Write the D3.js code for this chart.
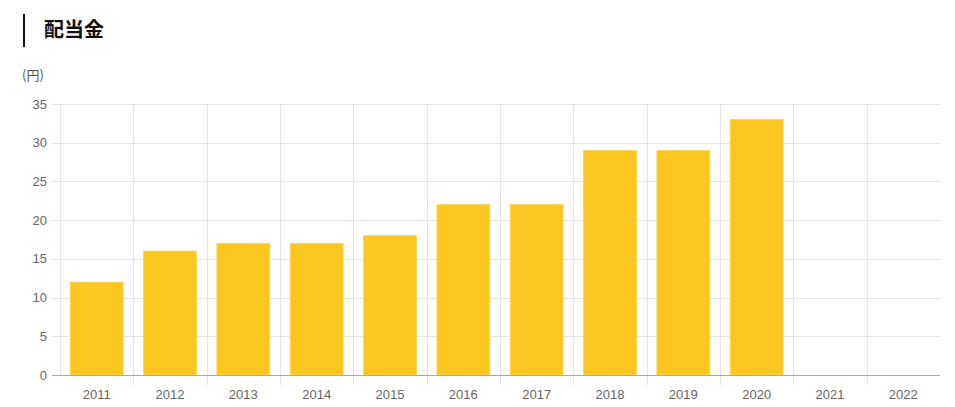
<!DOCTYPE html>
<html>
<head>
<meta charset="utf-8">
<script src="https://cdn.jsdelivr.net/npm/d3@7"></script>
<style>
  body { margin: 0; background: #fff; font-family: "Noto Sans CJK JP", "Liberation Sans", sans-serif; }
</style>
</head>
<body>
<script>
var years = ["2011", "2012", "2013", "2014", "2015", "2016", "2017", "2018", "2019", "2020", "2021", "2022"];
var dividends = [12, 16, 17, 17, 18, 22, 22, 29, 29, 33, null, null];
var yTicks = [0, 5, 10, 15, 20, 25, 30, 35];

var margin = { top: 104, right: 15, bottom: 32, left: 60 },
   width = 955 - margin.left - margin.right,
   height = 407 - margin.top - margin.bottom;

var svg = d3.select("body").append("svg")
   .attr("width", 955)
   .attr("height", 407);

// title with the black bar on the left
svg.append("rect").attr("x", 23).attr("y", 14).attr("width", 2).attr("height", 33).attr("fill", "#111");
svg.append("text")
   .attr("x", 44).attr("y", 37)
   .style("font-family", "'Noto Sans CJK JP', sans-serif")
   .style("font-weight", "bold")
   .style("font-size", "20px")
   .attr("fill", "#111")
   .text("配当金");

svg.append("text")
   .attr("x", 22).attr("y", 80)
   .style("font-family", "'Noto Sans CJK JP', sans-serif")
   .style("font-size", "13px")
   .attr("fill", "#555")
   .text("(円)");

var g = svg.append("g").attr("transform", "translate(" + margin.left + "," + margin.top + ")");

var x = d3.scaleBand().domain(years).range([0, width]).paddingInner(0).paddingOuter(0);
var y = d3.scaleLinear().domain([0, 35]).range([height, 0]);

// horizontal grid
g.append("g").selectAll("line").data(yTicks).enter().append("line")
   .attr("x1", -8).attr("x2", width)
   .attr("y1", function(d) { return Math.round(y(d)) + 0.5; })
   .attr("y2", function(d) { return Math.round(y(d)) + 0.5; })
   .attr("stroke", "#e4e4e4");

// vertical grid (first one is the y axis, no tick below)
var vx = years.map(function(d) { return x(d); });
g.append("g").selectAll("line").data(vx).enter().append("line")
   .attr("x1", function(d) { return Math.round(d) + 0.5; })
   .attr("x2", function(d) { return Math.round(d) + 0.5; })
   .attr("y1", 0).attr("y2", function(d, i) { return i === 0 ? height : height + 10; })
   .attr("stroke", "#e4e4e4");

// bars
var bw = x.bandwidth() * 0.72;
g.append("g").selectAll("rect").data(years.filter(function(d, i) { return dividends[i] != null; }))
   .enter().append("rect")
   .attr("x", function(d) { return x(d) + (x.bandwidth() - bw) / 2; })
   .attr("width", bw)
   .attr("y", function(d) { return y(dividends[years.indexOf(d)]); })
   .attr("height", function(d) { return height - y(dividends[years.indexOf(d)]); })
   .attr("fill", "#fbc71e")
   .attr("stroke", "#fcd65a")
   .attr("stroke-width", 1);

// zero line over bars
g.append("line").attr("x1", -8).attr("x2", width)
   .attr("y1", Math.round(y(0)) + 0.5).attr("y2", Math.round(y(0)) + 0.5)
   .attr("stroke", "#a8a8a8");

// y tick labels
g.append("g").selectAll("text").data(yTicks).enter().append("text")
   .attr("x", -13)
   .attr("y", function(d) { return y(d); })
   .attr("dy", "0.35em")
   .attr("text-anchor", "end")
   .style("font-family", "'Liberation Sans', Arial, sans-serif")
   .style("font-size", "13px")
   .attr("fill", "#666")
   .text(function(d) { return d; });

// x tick labels
g.append("g").selectAll("text").data(years).enter().append("text")
   .attr("x", function(d) { return x(d) + x.bandwidth() / 2; })
   .attr("y", height + 24)
   .attr("text-anchor", "middle")
   .style("font-family", "'Liberation Sans', Arial, sans-serif")
   .style("font-size", "13px")
   .attr("fill", "#666")
   .text(function(d) { return d; });
</script>
</body>
</html>
